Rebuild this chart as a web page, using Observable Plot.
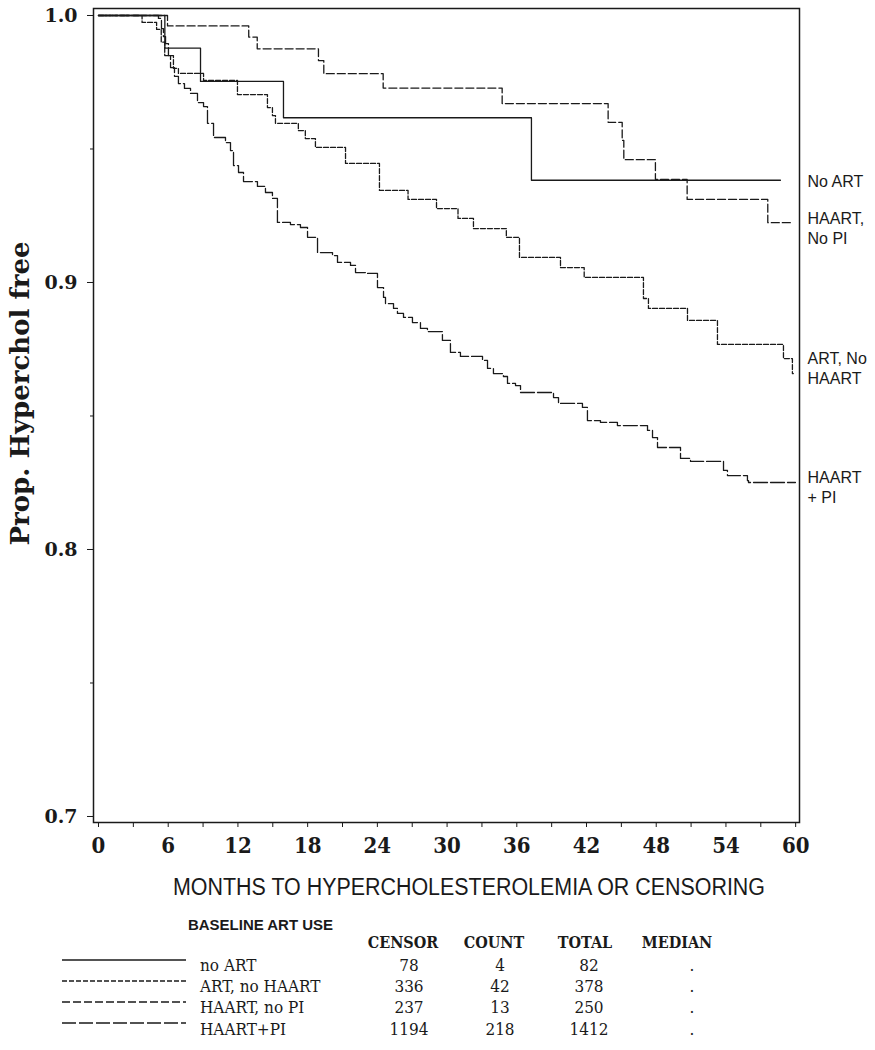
<!DOCTYPE html>
<html><head><meta charset="utf-8">
<script src="https://cdn.jsdelivr.net/npm/d3@7"></script>
<script src="https://cdn.jsdelivr.net/npm/@observablehq/plot@0.6"></script>
<style>
body{margin:0;background:#fff;}
#wrap{position:relative;width:875px;height:1050px;overflow:hidden;background:#fff;}
#wrap svg{position:absolute;left:0;}
</style></head><body><div id="wrap"></div>
<script>
// ---- data (months, proportion free) ----
const noArtT = [0, 5.71, 8.78, 15.92, 37.26, 58.69];
const noArtS = [1, 0.9878, 0.9753, 0.9617, 0.9383, 0.9383];

const artNoHaartT = [0, 3.75, 5.0, 5.4, 5.7, 6.45, 6.88, 9.04, 11.96, 14.54, 14.97, 15.23, 17.2, 17.8, 18.67, 21.26, 24.18, 26.64, 29.09, 30.94, 32.27, 35.1, 36.23, 39.76, 41.8, 46.9, 47.33, 50.69, 53.27, 58.95, 59.72, 59.8];
const artNoHaartS = [1, 0.9974, 0.9948, 0.990, 0.985, 0.9802, 0.9783, 0.9757, 0.9704, 0.9655, 0.9625, 0.9596, 0.9569, 0.9539, 0.9506, 0.9446, 0.9345, 0.9311, 0.9277, 0.924, 0.9202, 0.9169, 0.9094, 0.9056, 0.9019, 0.894, 0.8903, 0.8858, 0.8768, 0.8715, 0.8659, 0.8659];

const haartNoPiT = [0, 5.94, 12.93, 13.66, 18.93, 19.39, 24.50, 34.74, 43.86, 45.07, 45.21, 47.93, 50.66, 57.60, 59.70];
const haartNoPiS = [1, 0.9961, 0.9919, 0.9875, 0.9831, 0.9782, 0.9728, 0.9670, 0.9600, 0.9532, 0.9460, 0.9386, 0.9311, 0.9224, 0.9224];

const haartPiT = [0, 5.16, 5.42, 5.59, 5.77, 6.02, 6.20, 6.54, 6.88, 7.40, 7.92, 8.52, 9.04, 9.38, 9.90, 10.93, 11.36, 11.62, 12.05, 12.48, 13.68, 14.37, 14.97, 15.40, 16.52, 17.38, 17.99, 18.85, 20.14, 20.57, 21.69, 22.12, 23.15, 24.01, 24.53, 24.70, 25.39, 25.73, 26.25, 27.02, 27.71, 28.31, 29.60, 30.29, 31.15, 33.05, 33.48, 33.99, 34.85, 35.20, 35.89, 36.32, 39.16, 39.59, 41.65, 42.08, 43.20, 44.66, 47.25, 47.68, 48.11, 50.09, 50.95, 53.79, 54.13, 55.85, 55.94, 59.98];
const haartPiS = [1, 0.9989, 0.9951, 0.9921, 0.9895, 0.9850, 0.9805, 0.9772, 0.9745, 0.9727, 0.9708, 0.9674, 0.9659, 0.9596, 0.9543, 0.9524, 0.9494, 0.9438, 0.9412, 0.9378, 0.9360, 0.9337, 0.9315, 0.9225, 0.9217, 0.9206, 0.9169, 0.9112, 0.9101, 0.9075, 0.9064, 0.9037, 0.9034, 0.8981, 0.8944, 0.8921, 0.8903, 0.8884, 0.8869, 0.8850, 0.8828, 0.8816, 0.8783, 0.8738, 0.8723, 0.8708, 0.8678, 0.8659, 0.8648, 0.8622, 0.8614, 0.8588, 0.8569, 0.8547, 0.8532, 0.8483, 0.8476, 0.8464, 0.8446, 0.8419, 0.8382, 0.8341, 0.8330, 0.8296, 0.8277, 0.8258, 0.8251, 0.8251];

const endLabels = ["No ART", "ART, No\nHAART", "HAART,\nNo PI", "HAART\n+ PI"];
const legendLabels = ["no ART", "ART, no HAART", "HAART, no PI", "HAART+PI"];
const censor = [78, 336, 237, 1194];
const count = [4, 42, 13, 218];
const total = [82, 378, 250, 1412];
const median = [".", ".", ".", "."];
const tableHeaders = ["CENSOR", "COUNT", "TOTAL", "MEDIAN"];
const xTitle = "MONTHS TO HYPERCHOLESTEROLEMIA OR CENSORING";
const yTitle = "Prop. Hyperchol free";
const legendTitle = "BASELINE ART USE";

const xTicks = [0, 6, 12, 18, 24, 30, 36, 42, 48, 54, 60];
const xMinor = [3, 9, 15, 21, 27, 33, 39, 45, 51, 57];
const yTicks = [0.7, 0.8, 0.9, 1.0];
const yMinor = [0.75, 0.85, 0.95];

// ---- styles ----
const dashes = [null, "5,2", "8,3", "14,3"];
const labelDy = [0, -6, 5, 4];
const ink = "#1a1a1a";
const condSerif = "DejaVu Serif Condensed, Liberation Serif, serif";

const seriesT = [noArtT, artNoHaartT, haartNoPiT, haartPiT];
const seriesS = [noArtS, artNoHaartS, haartNoPiS, haartPiS];
const series = seriesT.map((T, i) => T.map((t, j) => ({t, s: seriesS[i][j], g: i})));
const ends = series.map((pts, i) => ({...pts[pts.length - 1], label: endLabels[i]}));

const chart = Plot.plot({
  width: 875, height: 870,
  marginLeft: 93, marginRight: 76, marginTop: 8, marginBottom: 48,
  x: {domain: [-0.43, 60.33]},
  y: {domain: [0.69775, 1.00262]},
  marks: [
    Plot.axisY({ticks: yTicks, tickFormat: d3.format(".1f"), tickSize: 6, tickPadding: 10, fontSize: 19, fontFamily: "DejaVu Serif", fontWeight: "bold", label: null, stroke: ink, fill: ink}),
    Plot.axisY({ticks: yMinor, tickFormat: () => "", tickSize: 3, label: null, stroke: ink}),
    Plot.axisX({ticks: xTicks, tickSize: 5, tickPadding: 10, fontSize: 22, fontWeight: "bold", fontFamily: condSerif, label: null, stroke: ink, fill: ink}),
    Plot.axisX({ticks: xMinor, tickFormat: () => "", tickSize: 5, label: null, stroke: ink}),
    ...series.map((pts, i) => Plot.line(pts, {x: "t", y: "s", curve: "step-after", stroke: ink, strokeWidth: 1.3, strokeDasharray: dashes[i]})),
    Plot.frame({stroke: ink, strokeWidth: 1.5}),
    ...ends.map((d, i) => Plot.text([d], {y: "s", text: "label", frameAnchor: "right", dx: 8, dy: labelDy[i], textAnchor: "start", lineAnchor: "middle", lineHeight: 1.25, fontSize: 16, fontFamily: "Liberation Sans, Arial, sans-serif", fill: ink})),
    Plot.text([yTitle], {text: d => d, frameAnchor: "left", rotate: -90, dx: -73, dy: -22, textAnchor: "middle", lineAnchor: "middle", fontSize: 26, fontWeight: "bold", fontFamily: "DejaVu Serif, serif", fill: ink})
  ]
});
chart.style.top = "0px";
document.getElementById("wrap").appendChild(chart);

// ---- axis title and legend table below the chart ----
const top0 = 870;
const leg = d3.create("svg").attr("width", 875).attr("height", 180).style("top", top0 + "px")
  .attr("font-family", condSerif).attr("fill", ink);
leg.append("text").attr("x", 173).attr("y", 887 - top0).attr("dominant-baseline", "central")
  .attr("font-family", "Liberation Sans, Arial, sans-serif").attr("font-size", 23)
  .attr("textLength", 592).attr("lengthAdjust", "spacingAndGlyphs").text(xTitle);
leg.append("text").attr("x", 188).attr("y", 924 - top0).attr("dominant-baseline", "central")
  .attr("font-family", "Liberation Sans, Arial, sans-serif").attr("font-weight", "bold").attr("font-size", 15)
  .attr("textLength", 145).attr("lengthAdjust", "spacingAndGlyphs").text(legendTitle);
const colX = [403, 494, 585, 677];
const numX = [409, 500, 589, 692];
tableHeaders.forEach((h, i) => leg.append("text").attr("x", colX[i]).attr("y", 942 - top0)
  .attr("text-anchor", "middle").attr("dominant-baseline", "central").attr("font-weight", "bold").attr("font-size", 16).text(h));
const rowY = [965, 986, 1007, 1029];
const lineY = [960, 981, 1002, 1023];
legendLabels.forEach((lab, i) => {
  const y = rowY[i] - top0;
  leg.append("line").attr("x1", 62).attr("x2", 186).attr("y1", lineY[i] - top0).attr("y2", lineY[i] - top0)
    .attr("stroke", ink).attr("stroke-width", 1.3).attr("stroke-dasharray", dashes[i]);
  leg.append("text").attr("x", 200).attr("y", y).attr("dominant-baseline", "central").attr("font-size", 17).text(lab);
  [censor[i], count[i], total[i], median[i]].forEach((v, k) =>
    leg.append("text").attr("x", numX[k]).attr("y", y).attr("text-anchor", "middle").attr("dominant-baseline", "central").attr("font-size", 17).text(v));
});
document.getElementById("wrap").appendChild(leg.node());
</script></body></html>
